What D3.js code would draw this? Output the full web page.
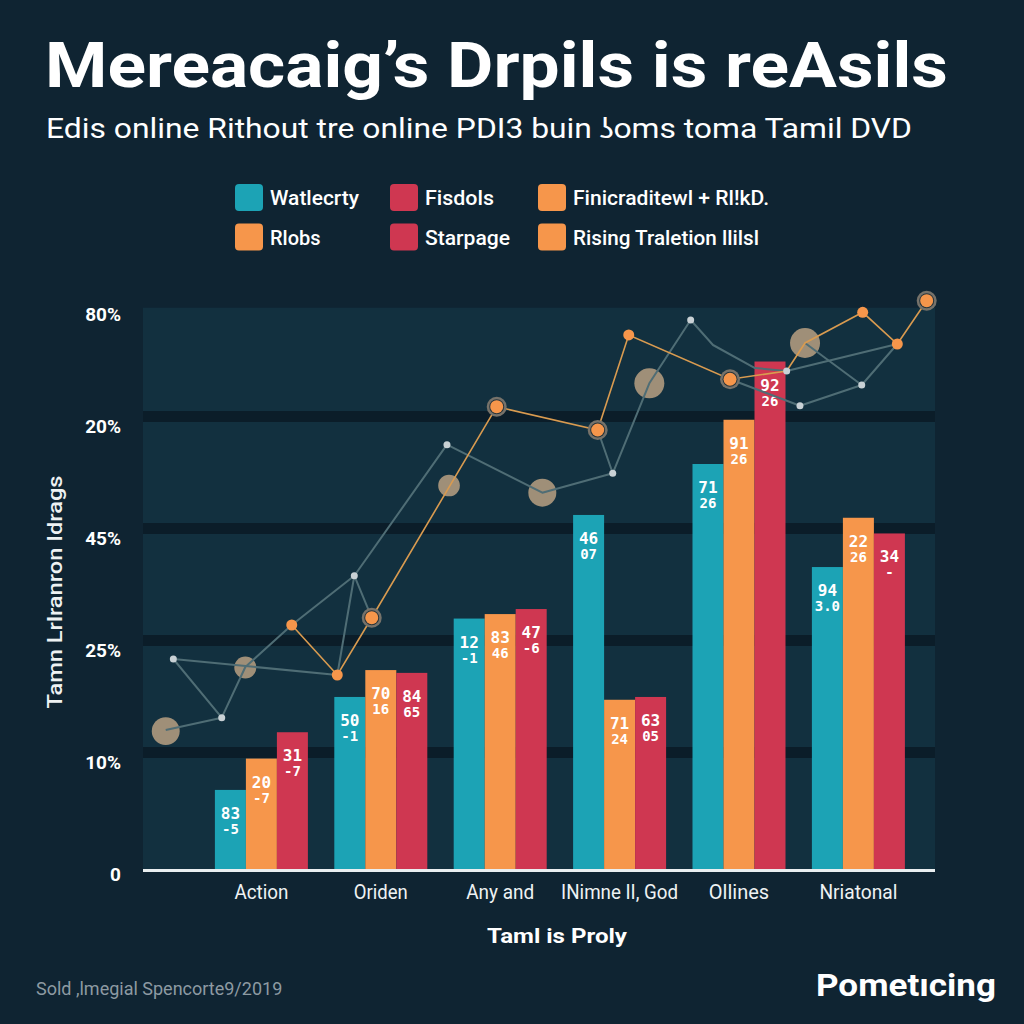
<!DOCTYPE html>
<html><head><meta charset="utf-8">
<script src="https://cdn.jsdelivr.net/npm/d3@7"></script>
<style>html,body{margin:0;padding:0;background:#0f2432;}svg{display:block;}</style>
</head><body>
<svg id="c" width="1024" height="1024"></svg>
<script>
// ---------- DATA ----------
const categories = ["Action","Oriden","Any and","INimne II, God","Ollines","Nriatonal"];
const seriesNames = ["Watlecrty","Finicraditewl + Rl!kD.","Fisdols"];
const tealValues   = [14.3, 30.9, 44.9, 63.4, 72.5, 54.1];
const orangeValues = [19.9, 35.7, 45.7, 30.4, 80.4, 62.9];
const redValues    = [24.6, 35.2, 46.6, 30.9, 90.8, 60.1];
const tealLabels   = [["83","-5"],["50","-1"],["12","-1"],["46","07"],["71","26"],["94","3.0"]];
const orangeLabels = [["20","-7"],["70","16"],["83","46"],["71","24"],["91","26"],["22","26"]];
const redLabels    = [["31","-7"],["84","65"],["47","-6"],["63","05"],["92","26"],["34","-"]];
const yTickValues = [0,20,40,60,80,100];
const yTickLabels = ["0","10%","25%","45%","20%","80%"];
const legendLabels = ["Watlecrty","Fisdols","Finicraditewl + Rl!kD.","Rlobs","Starpage","Rising Traletion llilsl"];
const legendKinds  = ["teal","red","orange","orange","red","orange"];
// overlay lines (x: 0-100 timeline across plot, y: same units as bars)
const orangeLine = [[18.78,43.75],[24.53,34.82],[28.88,45.05],[44.66,82.73],[57.41,78.57],[61.33,95.54],[74.12,87.63],[81.27,89.11],[83.59,94.11],[90.87,99.59],[95.24,93.93],[98.95,101.66]];
const orangeDots  = [[18.78,43.75],[24.53,34.82],[61.33,95.54],[90.87,99.59],[95.24,93.93]];
const orangeRings = [[28.88,45.05],[44.66,82.73],[57.41,78.57],[74.12,87.63],[98.95,101.66]];
const grayPath1 = [[2.87,25.0],[9.94,27.2],[3.83,37.68],[24.53,34.82],[26.68,52.55],[28.88,45.05]];
const grayPath2 = [[9.94,27.2],[12.92,36.25],[18.78,43.75],[26.68,52.55],[38.38,75.95],[50.42,67.38],[59.31,70.84],[57.41,78.57]];
const grayPath3 = [[59.31,70.84],[63.93,86.91],[69.15,98.21],[71.97,93.75],[77.27,89.64],[81.27,89.11],[95.24,93.93]];
const grayPath4 = [[74.12,87.63],[82.95,82.91],[90.75,86.61],[95.24,93.93]];
const grayPath5 = [[83.59,94.11],[90.75,86.61]];
const grayDots = [[3.83,37.68],[9.94,27.2],[26.68,52.55],[38.38,75.95],[59.31,70.84],[69.15,98.21],[81.27,89.11],[82.95,82.91],[90.75,86.61]];
const bubbles = [[2.87,24.8,87],[12.92,36.16,54],[38.64,68.66,52],[50.42,67.38,87],[63.93,86.91,100],[83.59,94.11,100]];

// ---------- STYLE / LAYOUT ----------
const C = {bg:"#0f2432", panel:"#12303f", band:"#0b1d29", teal:"#1ca3b5", orange:"#f6964b", red:"#cf3751",
           tan:"#a8957b", grayLine:"#4f6d75", orangeLine:"#d99b50", dot:"#c9d1d5", text:"#ffffff"};
const svg = d3.select("#c");
const F = "Roboto, 'Noto Sans', sans-serif";
function fit(sel, w){ const n = sel.node(); const l = n.getComputedTextLength(); if (Math.abs(l-w) > 1.5) sel.attr("textLength", w).attr("lengthAdjust","spacingAndGlyphs"); return sel; }

svg.append("rect").attr("width",1024).attr("height",1024).attr("fill",C.bg);

const PL = 143, PR = 935;
const y = d3.scaleLinear().domain([0,100]).range([870,310]);
const x0 = d3.scaleBand().domain(categories).range([201.7, 918.1]).padding(0);
const groupW = 93;
const x1 = d3.scaleBand().domain(seriesNames).range([(x0.bandwidth()-groupW)/2, (x0.bandwidth()+groupW)/2]);
const xL = d3.scaleLinear().domain([0,100]).range([PL, PR]);
const rScale = d3.scaleSqrt().domain([0,100]).range([0,15]);
const colorOf = {teal:C.teal, orange:C.orange, red:C.red};
const seriesColor = d3.scaleOrdinal().domain(seriesNames).range([C.teal, C.orange, C.red]);

// title
fit(svg.append("text").attr("x",45).attr("y",87).attr("fill",C.text).attr("font-family",F).attr("font-weight",700)
  .attr("font-size",63).text("Mereacaig’s Drpils is reAsils"), 903);
fit(svg.append("text").attr("x",46).attr("y",138).attr("fill",C.text).attr("font-family",F).attr("font-weight",400)
  .attr("font-size",27).text("Edis online Rithout tre online PDI3 buin ʖoms toma Tamil DVD"), 866);

// legend
const legX = [235, 390, 538], legRowY = [184, 223.5], legW = [89,69,196,52,85,186];
legendLabels.forEach((lab,i)=>{
  const col = i%3, row = Math.floor(i/3);
  const g = svg.append("g").attr("transform",`translate(${legX[col]},${legRowY[row]})`);
  g.append("rect").attr("width",28).attr("height",27).attr("rx",4).attr("fill",colorOf[legendKinds[i]]);
  fit(g.append("text").attr("x",35).attr("y",21).attr("fill",C.text).attr("font-family",F).attr("font-weight",500)
    .attr("font-size",20).text(lab), legW[i]);
});

// panel + bands
svg.append("rect").attr("x",PL).attr("y",y(100.4)).attr("width",PR-PL).attr("height",870-y(100.4)).attr("fill",C.panel);
svg.append("g").selectAll("rect").data(yTickValues.slice(1,5)).join("rect")
  .attr("x",PL).attr("width",PR-PL).attr("y",d=>y(d)-11).attr("height",11).attr("fill",C.band);

// y axis
const yAx = svg.append("g").attr("transform","translate(121,0)")
  .call(d3.axisLeft(y).tickValues(yTickValues).tickFormat((d,i)=>yTickLabels[i]).tickSize(0).tickPadding(0));
yAx.select(".domain").remove();
yAx.selectAll("text").attr("fill",C.text).attr("font-family",F).attr("font-weight",700).attr("font-size",19)
  .attr("transform","translate(0,4)");
const yt = svg.append("text").attr("transform","translate(62,592) rotate(-90)").attr("text-anchor","middle")
  .attr("fill","#eef2f3").attr("font-family",F).attr("font-weight",500).attr("font-size",21).text("Tamn Lrlranron Idrags");
fit(yt, 233);

// bars
const seriesVals = [tealValues, orangeValues, redValues];
const seriesLabs = [tealLabels, orangeLabels, redLabels];
const groups = svg.append("g").selectAll("g").data(categories).join("g")
  .attr("transform",d=>`translate(${x0(d)},0)`);
seriesNames.forEach((s,si)=>{
  groups.append("rect").attr("x",x1(s)).attr("width",x1.bandwidth())
    .attr("y",(d,i)=>y(seriesVals[si][i])).attr("height",(d,i)=>870-y(seriesVals[si][i])).attr("fill",seriesColor(s));
  groups.append("text").attr("x",x1(s)+x1.bandwidth()/2).attr("y",(d,i)=>y(seriesVals[si][i])+29)
    .attr("text-anchor","middle").attr("fill","#fff").attr("font-family","'DejaVu Sans Mono', monospace").attr("font-weight",700)
    .attr("font-size",16).text((d,i)=>seriesLabs[si][i][0]);
  groups.append("text").attr("x",x1(s)+x1.bandwidth()/2).attr("y",(d,i)=>y(seriesVals[si][i])+44)
    .attr("text-anchor","middle").attr("fill","#fff").attr("font-family","'DejaVu Sans Mono', monospace").attr("font-weight",700)
    .attr("font-size",14).text((d,i)=>seriesLabs[si][i][1]);
});

// baseline
svg.append("rect").attr("x",PL).attr("y",y(0)-1).attr("width",PR-PL).attr("height",3).attr("fill","#e9eef0");

// x axis
const xAx = svg.append("g").attr("transform","translate(0,870)").call(d3.axisBottom(x0).tickSize(0));
xAx.select(".domain").remove();
const xW = [54,54,68,117,59,78];
xAx.selectAll("text").attr("y",29).attr("dy",0).attr("fill","#eef2f3").attr("font-family",F).attr("font-size",20)
  .each(function(d,i){ fit(d3.select(this), xW[i]); });
fit(svg.append("text").attr("x",557).attr("y",943).attr("text-anchor","middle").attr("fill",C.text).attr("font-family",F)
  .attr("font-weight",700).attr("font-size",21).text("Taml is Proly"), 140);

// overlay
const line = d3.line().x(d=>xL(d[0])).y(d=>y(d[1]));
svg.append("g").selectAll("circle").data(bubbles).join("circle")
  .attr("cx",d=>xL(d[0])).attr("cy",d=>y(d[1])).attr("r",d=>rScale(d[2])).attr("fill",C.tan).attr("opacity",0.95);
svg.append("g").selectAll("path").data([grayPath1,grayPath2,grayPath3,grayPath4,grayPath5]).join("path")
  .attr("d",line).attr("fill","none").attr("stroke",C.grayLine).attr("stroke-width",2).attr("stroke-linejoin","round");
svg.append("path").attr("d",line(orangeLine)).attr("fill","none").attr("stroke",C.orangeLine).attr("stroke-width",1.6);
svg.append("g").selectAll("circle").data(grayDots).join("circle")
  .attr("cx",d=>xL(d[0])).attr("cy",d=>y(d[1])).attr("r",3.5).attr("fill",C.dot);
svg.append("g").selectAll("circle").data(orangeDots).join("circle")
  .attr("cx",d=>xL(d[0])).attr("cy",d=>y(d[1])).attr("r",5.5).attr("fill",C.orange);
const rings = svg.append("g").selectAll("g").data(orangeRings).join("g")
  .attr("transform",d=>`translate(${xL(d[0])},${y(d[1])})`);
rings.append("circle").attr("r",10).attr("fill","#76726a");
rings.append("circle").attr("r",7.5).attr("fill","#26343b");
rings.append("circle").attr("r",6.5).attr("fill",C.orange);

// footer
fit(svg.append("text").attr("x",36).attr("y",995).attr("fill","#8d9aa2").attr("font-family",F).attr("font-size",18)
  .text("Sold ,lmegial Spencorte9/2019"), 246);
fit(svg.append("text").attr("x",816).attr("y",996).attr("fill",C.text).attr("font-family",F).attr("font-weight",700)
  .attr("font-size",32).text("Pometıcing"), 180);
</script>
</body></html>
